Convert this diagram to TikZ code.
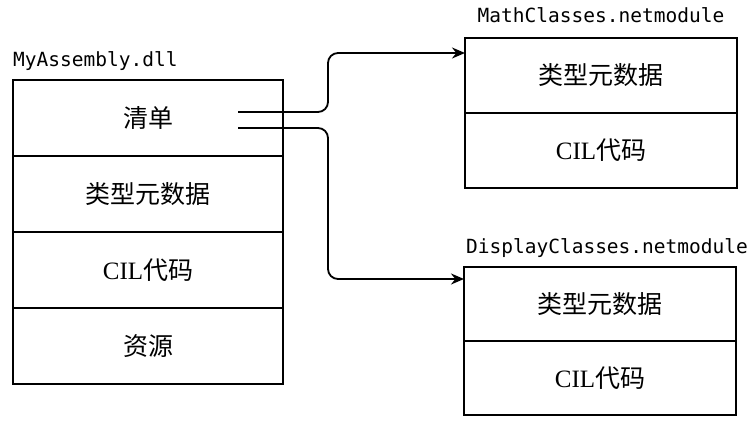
\documentclass[tikz,border=0pt]{standalone}
\usepackage{fontspec}
\setmainfont{Liberation Serif}
\setmonofont{DejaVu Sans Mono}
\newfontfamily\cjk{Noto Sans CJK SC}
\usetikzlibrary{positioning, arrows.meta}

\begin{document}
\begin{tikzpicture}[x=1pt,y=-1pt,node distance=0pt,
    row/.style={draw, line width=1.8pt, outer sep=0pt, inner sep=0pt,
        minimum width=270pt, minimum height=76pt, font=\fontsize{25}{29}\selectfont},
    tag/.style={font=\ttfamily\fontsize{19.5}{22}\selectfont, inner sep=0pt},
    link/.style={line width=1.8pt, rounded corners=10pt, -{Stealth[length=13pt,width=11pt]}}]

    \useasboundingbox (0,0) rectangle (754,425);

    % the assembly
    \node[row] (asm-manifest) at (148,118) {\cjk 清单};
    \node[row, below=of asm-manifest] (asm-meta) {\cjk 类型元数据};
    \node[row, below=of asm-meta] (asm-cil) {CIL{\cjk 代码}};
    \node[row, below=of asm-cil] (asm-res) {\cjk 资源};
    \node[tag, anchor=base west] (asm-name) at ([yshift=13pt]asm-manifest.north west) {MyAssembly.dll};

    % first module
    \node[row, minimum width=272pt, minimum height=75pt] (math-meta) at (601,75.5) {\cjk 类型元数据};
    \node[row, minimum width=272pt, minimum height=75pt, below=of math-meta] (math-cil) {CIL{\cjk 代码}};
    \node[tag, anchor=base] (math-name) at ([yshift=15pt]math-meta.north) {MathClasses.netmodule};

    % second module
    \node[row, minimum width=272pt, minimum height=74pt] (disp-meta) at (600,304) {\cjk 类型元数据};
    \node[row, minimum width=272pt, minimum height=74pt, below=of disp-meta] (disp-cil) {CIL{\cjk 代码}};
    \node[tag, anchor=base] (disp-name) at ([xshift=7pt,yshift=14pt]disp-meta.north) {DisplayClasses.netmodule};

    % links from the manifest
    \coordinate (s1) at (238,112);
    \coordinate (s2) at (238,128);
    \coordinate (m-in) at ([yshift=-15pt]math-meta.north west);
    \coordinate (d-in) at ([yshift=-12pt]disp-meta.north west);
    \draw[link] (s1) -- ++(90,0) |- (m-in);
    \draw[link] (s2) -- ++(90,0) |- (d-in);
\end{tikzpicture}
\end{document}
